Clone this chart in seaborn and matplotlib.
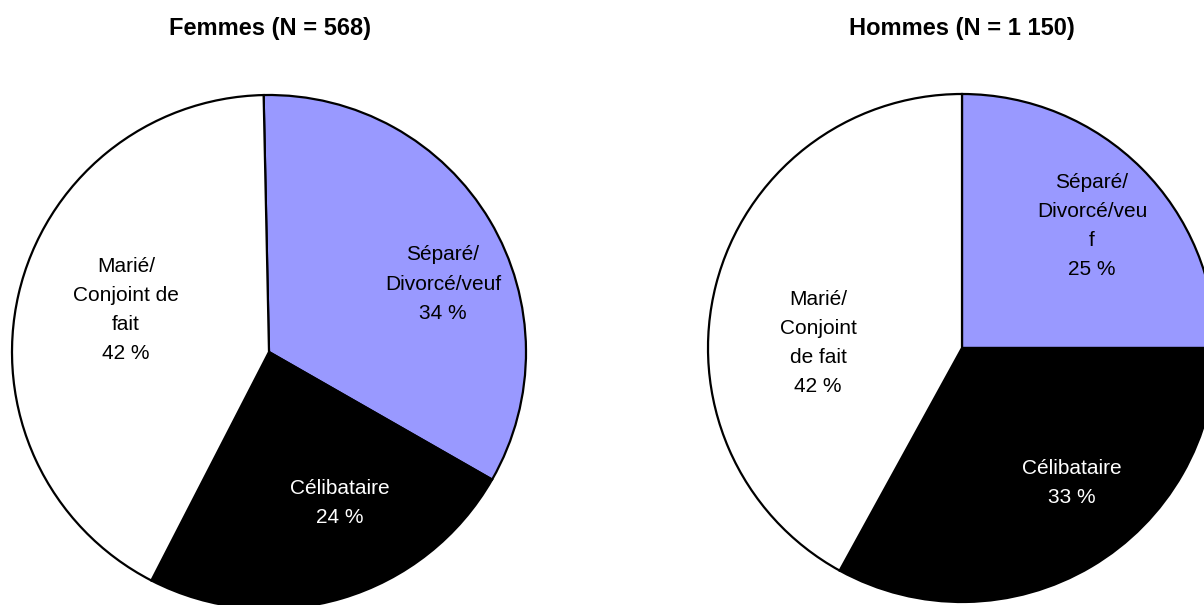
import matplotlib
matplotlib.use("Agg")
import matplotlib.pyplot as plt
import seaborn as sns

# ---- data ----
categories_f = ["Séparé/\nDivorcé/veuf", "Célibataire", "Marié/\nConjoint de\nfait"]
values_f = [33.6, 24.3, 42.1]
categories_h = ["Séparé/\nDivorcé/veu\nf", "Célibataire", "Marié/\nConjoint\nde fait"]
values_h = [25, 33, 42]
titles = ["Femmes (N = 568)", "Hommes (N = 1 150)"]

sns.set_theme(style="white")
plt.rcParams["font.family"] = ["Liberation Sans", "DejaVu Sans"]

colors = sns.color_palette(["#9999FF", "#000000", "#FFFFFF"])
text_colors = ["#000000", "#FFFFFF", "#000000"]

W, H = 1204, 605
fig = plt.figure(figsize=(W / 100, H / 100), dpi=100)
ax = fig.add_axes([0, 0, 1, 1])

# pie geometry (pixel space, y up)
pies = [
    dict(vals=values_f, cats=categories_f, center=(269, H - 352), r=257, start=91.2,
         label_pos=[(443, 284), (340, 503), (126, 310)], title_x=270),
    dict(vals=values_h, cats=categories_h, center=(962, H - 348), r=254, start=90,
         label_pos=[(1092, 226), (1072, 483), (818, 343)], title_x=962),
]

for p, title in zip(pies, titles):
    ax.pie(p["vals"], colors=colors, center=p["center"], radius=p["r"],
           startangle=p["start"], counterclock=False, frame=True,
           wedgeprops=dict(edgecolor="black", linewidth=1.6))
    for cat, val, (lx, ly), tc in zip(p["cats"], p["vals"], p["label_pos"], text_colors):
        ax.text(lx, H - ly, f"{cat}\n{round(val)} %", ha="center", va="center",
                fontsize=15, color=tc, linespacing=1.68)
    ax.text(p["title_x"], H - 29, title, ha="center", va="center",
            fontsize=17, fontweight="bold", color="black")

ax.set_xlim(0, W)
ax.set_ylim(0, H)
ax.set_aspect("equal")
ax.set_axis_off()

fig.savefig("out.png", dpi=100, facecolor="white")
